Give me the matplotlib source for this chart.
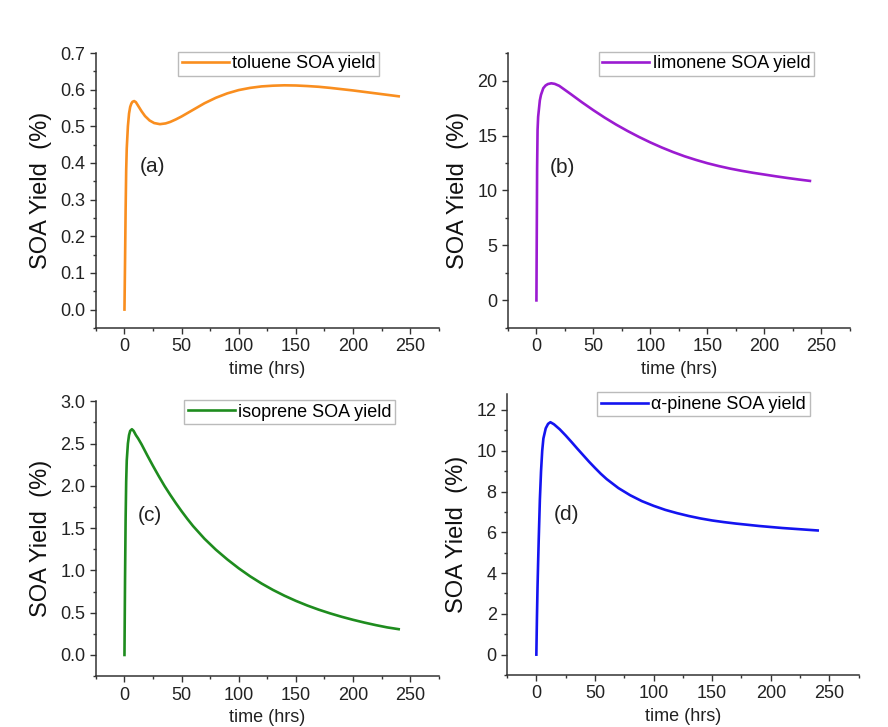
import matplotlib
matplotlib.use('Agg')
from matplotlib import pyplot as plt
from matplotlib.ticker import MultipleLocator

# toluene SOA yield (%)
t_tol = [0, 0.5, 1, 1.5, 2, 3, 4, 5, 6, 7, 8.5, 10, 12, 15, 18, 22, 26, 31, 36, 40,
         45, 50, 55, 60, 70, 80, 90, 100, 110, 120, 130, 140, 150, 160, 170, 180,
         190, 200, 210, 220, 230, 240]
y_tol = [0, 0.13, 0.27, 0.38, 0.44, 0.50, 0.535, 0.553, 0.562, 0.567, 0.569, 0.566,
         0.556, 0.541, 0.528, 0.516, 0.509, 0.506, 0.508, 0.512, 0.519, 0.527, 0.536,
         0.545, 0.563, 0.578, 0.590, 0.599, 0.605, 0.609, 0.611, 0.612, 0.6115, 0.610,
         0.608, 0.605, 0.6015, 0.598, 0.594, 0.590, 0.586, 0.582]

# limonene SOA yield (%)
t_lim = [0, 0.3, 0.6, 1, 1.5, 2, 3, 4, 6, 8, 10, 13, 16, 20, 25, 30, 35, 40, 50, 60,
         70, 80, 90, 100, 110, 120, 130, 140, 150, 160, 170, 180, 190, 200, 210, 220,
         230, 240]
y_lim = [0, 6, 12, 15.5, 16.7, 17.2, 18.2, 18.7, 19.3, 19.55, 19.68, 19.75, 19.7, 19.52,
         19.15, 18.78, 18.4, 18.02, 17.3, 16.62, 15.99, 15.41, 14.87, 14.37, 13.91, 13.49,
         13.11, 12.78, 12.48, 12.22, 11.99, 11.79, 11.61, 11.45, 11.29, 11.14, 11.0, 10.87]

# isoprene SOA yield (%)
t_iso = [0, 0.5, 1, 1.5, 2, 3, 4, 5, 6.5, 8, 10, 12, 15, 20, 25, 30, 35, 40, 45, 50, 55,
         60, 70, 80, 90, 100, 110, 120, 130, 140, 150, 160, 170, 180, 190, 200, 210, 220,
         230, 240]
y_iso = [0, 0.9, 1.6, 2.05, 2.30, 2.5, 2.6, 2.65, 2.67, 2.65, 2.60, 2.56, 2.49, 2.36,
         2.235, 2.115, 2.0, 1.895, 1.795, 1.70, 1.61, 1.525, 1.375, 1.245, 1.13, 1.025,
         0.93, 0.845, 0.769, 0.701, 0.640, 0.585, 0.536, 0.492, 0.452, 0.416, 0.383,
         0.353, 0.326, 0.305]

# alpha-pinene SOA yield (%)
t_pin = [0, 0.5, 1, 1.5, 2, 3, 4, 5, 6, 8, 10, 12, 15, 20, 25, 30, 35, 40, 45, 50, 55,
         60, 70, 80, 90, 100, 110, 120, 130, 140, 150, 160, 170, 180, 190, 200, 210, 220,
         230, 240]
y_pin = [0, 1.8, 3.3, 4.5, 5.6, 7.6, 9.0, 10.0, 10.6, 11.1, 11.32, 11.4, 11.3, 11.05,
         10.75, 10.43, 10.1, 9.78, 9.46, 9.16, 8.87, 8.61, 8.17, 7.82, 7.53, 7.3, 7.1,
         6.94, 6.8, 6.68, 6.58, 6.5, 6.43, 6.37, 6.31, 6.26, 6.21, 6.17, 6.13, 6.09]

plt.rcParams['font.family'] = ['Liberation Sans', 'DejaVu Sans']
plt.rcParams['font.size'] = 13

fig = plt.figure(figsize=(8.88, 7.27), dpi=100)

panels = [
    # rect, t, y, color, legend, letter, ylim, ymajor, yminor, legend x, letter pos
    ([0.108, 0.549, 0.386, 0.378], t_tol, y_tol, '#F98E1F', 'toluene SOA yield', '(a)',
     (-0.05, 0.7), 0.1, 0.05, 0.24, (13, 0.39)),
    ([0.572, 0.549, 0.385, 0.378], t_lim, y_lim, '#9B1BD1', 'limonene SOA yield', '(b)',
     (-2.5, 22.5), 5, 2.5, 0.265, (12, 12.1)),
    ([0.108, 0.070, 0.386, 0.378], t_iso, y_iso, '#1E8C1E', 'isoprene SOA yield', '(c)',
     (-0.25, 3.0), 0.5, 0.25, 0.257, (12, 1.65)),
    ([0.571, 0.0715, 0.396, 0.387], t_pin, y_pin, '#1414F0', '\u03b1-pinene SOA yield', '(d)',
     (-1, 12.8), 2, 1, 0.256, (15, 6.85)),
]

for rect, t, y, color, label, letter, ylim, ymaj, ymin, lx, lpos in panels:
    ax = fig.add_axes(rect)
    ax.plot(t, y, color=color, lw=1.9, label=label)
    ax.set_xlim(-25, 275)
    ax.set_ylim(*ylim)
    ax.xaxis.set_major_locator(MultipleLocator(50))
    ax.xaxis.set_minor_locator(MultipleLocator(25))
    ax.yaxis.set_major_locator(MultipleLocator(ymaj))
    ax.yaxis.set_minor_locator(MultipleLocator(ymin))
    if ymaj < 1:
        ax.yaxis.set_major_formatter(plt.FormatStrFormatter('%.1f'))
    ax.spines['top'].set_visible(False)
    ax.spines['right'].set_visible(False)
    for s in ('left', 'bottom'):
        ax.spines[s].set_color('#333333')
        ax.spines[s].set_linewidth(1.1)
    ax.tick_params(which='major', direction='out', length=4, width=1, colors='#333333',
                   labelsize=13, labelcolor='#222222')
    ax.tick_params(which='minor', direction='out', length=2.5, width=1, colors='#333333')
    ax.set_xlabel('time (hrs)', fontsize=13, labelpad=4, color='#222222')
    ax.set_ylabel('SOA Yield  (%)', fontsize=17, labelpad=6, color='#111111')
    ax.text(lpos[0], lpos[1], letter, fontsize=15, ha='left', va='center', color='#222222')
    leg = ax.legend(loc='upper left', bbox_to_anchor=(lx, 1.005), borderaxespad=0,
                    fontsize=13, handlelength=2.6, handletextpad=0.2, borderpad=0.2,
                    fancybox=False, framealpha=1, edgecolor='#bbbbbb')
    leg.get_frame().set_linewidth(1.0)

fig.savefig('out.png', dpi=100)
